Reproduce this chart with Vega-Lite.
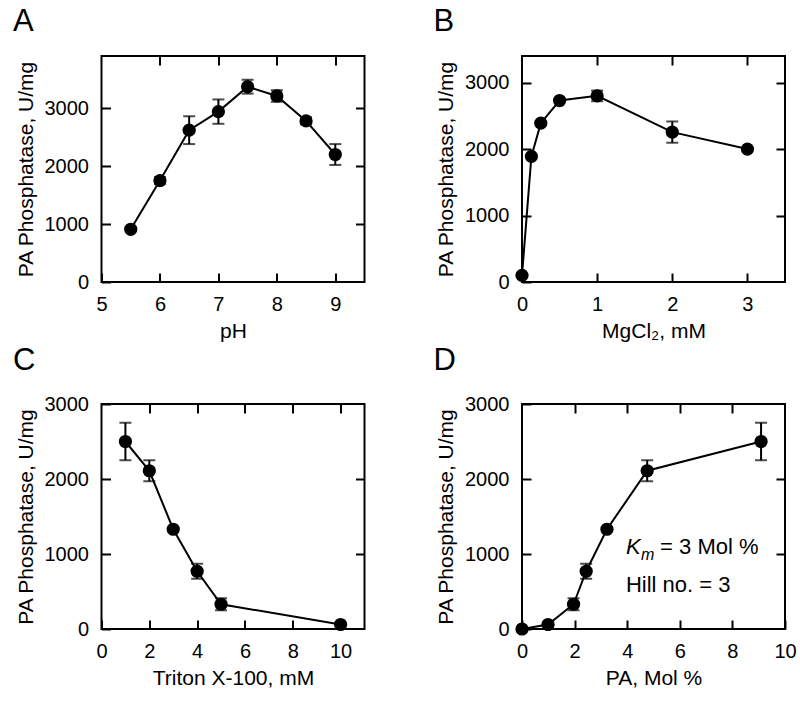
{
  "$schema": "https://vega.github.io/schema/vega-lite/v6.json",
  "background": "white",
  "padding": {"left": 11.5, "top": 5, "right": 5, "bottom": 5},
  "config": {
    "font": "Liberation Sans",
    "view": {"stroke": "black", "strokeWidth": 2},
    "axis": {
      "domain": false, "grid": false, "offset": -9, "labelFlush": false, "labelOverlap": false,
      "tickColor": "black", "tickWidth": 2, "tickSize": 9,
      "labelFontSize": 20, "labelColor": "black", "labelPadding": 12, "format": "d",
      "titleFontSize": 21, "titleFontWeight": "normal", "titleColor": "black"
    },
    "axisX": {"titlePadding": 6},
    "axisY": {"titlePadding": 8, "labelPadding": 13},
    "title": {"fontSize": 31, "fontWeight": "normal", "anchor": "start", "color": "black", "baseline": "alphabetic", "offset": 17, "dx": -2}
  },
  "datasets": {
    "A": [
      {"x": 5.5, "y": 910, "err": 0},
      {"x": 6, "y": 1750, "err": 60},
      {"x": 6.5, "y": 2620, "err": 240},
      {"x": 7, "y": 2940, "err": 210},
      {"x": 7.5, "y": 3370, "err": 120},
      {"x": 8, "y": 3210, "err": 100},
      {"x": 8.5, "y": 2780, "err": 60},
      {"x": 9, "y": 2200, "err": 180}
    ],
    "B": [
      {"x": 0, "y": 100, "err": 0},
      {"x": 0.125, "y": 1890, "err": 0},
      {"x": 0.25, "y": 2390, "err": 0},
      {"x": 0.5, "y": 2730, "err": 0},
      {"x": 1, "y": 2800, "err": 80},
      {"x": 2, "y": 2255, "err": 160},
      {"x": 3, "y": 2000, "err": 0}
    ],
    "C": [
      {"x": 1, "y": 2500, "err": 250},
      {"x": 2, "y": 2110, "err": 140},
      {"x": 3, "y": 1330, "err": 0},
      {"x": 4, "y": 770, "err": 100},
      {"x": 5, "y": 330, "err": 80},
      {"x": 10, "y": 60, "err": 0}
    ],
    "D": [
      {"x": 0, "y": 0, "err": 0},
      {"x": 0.99, "y": 60, "err": 0},
      {"x": 1.96, "y": 330, "err": 80},
      {"x": 2.44, "y": 770, "err": 100},
      {"x": 3.23, "y": 1330, "err": 0},
      {"x": 4.76, "y": 2110, "err": 140},
      {"x": 9.09, "y": 2500, "err": 250}
    ],
    "note": [
      {"part": "K", "x": 3.95, "y": 1000},
      {"part": "m", "x": 4.52, "y": 915},
      {"part": "eq", "x": 5.25, "y": 1000},
      {"part": "hill", "x": 3.95, "y": 490}
    ]
  },
  "columns": 2,
  "spacing": {"column": 65.5, "row": 2},
  "concat": [
    {
      "width": 263, "height": 226,
      "title": {"text": "A"},
      "data": {"name": "A"},
      "layer": [
        {
          "mark": {"type": "line", "color": "black", "strokeWidth": 2},
          "encoding": {
            "x": {"field": "x", "type": "quantitative", "scale": {"domain": [5, 9.5], "nice": false}, "axis": {"orient": "bottom", "values": [5, 6, 7, 8, 9], "title": "pH"}},
            "y": {"field": "y", "type": "quantitative", "scale": {"domain": [0, 3900], "nice": false}, "axis": {"orient": "left", "values": [0, 1000, 2000, 3000], "title": "PA Phosphatase, U/mg"}}
          }
        },
        {
          "transform": [{"filter": "datum.err > 0"}],
          "mark": {"type": "errorbar", "color": "black", "ticks": {"size": 12, "thickness": 2, "color": "black"}, "rule": {"strokeWidth": 2}},
          "encoding": {
            "x": {"field": "x", "type": "quantitative", "axis": null},
            "y": {"field": "y", "type": "quantitative", "axis": null},
            "yError": {"field": "err"}
          }
        },
        {
          "mark": {"type": "point", "shape": "circle", "filled": true, "size": 175, "color": "black", "opacity": 1},
          "encoding": {
            "x": {"field": "x", "type": "quantitative", "axis": {"orient": "top", "values": [6, 7, 8, 9], "labels": false, "title": null}},
            "y": {"field": "y", "type": "quantitative", "axis": {"orient": "right", "values": [1000, 2000, 3000], "labels": false, "title": null}}
          }
        }
      ],
      "resolve": {"axis": {"x": "independent", "y": "independent"}}
    },
    {
      "width": 263, "height": 226,
      "title": {"text": "B"},
      "data": {"name": "B"},
      "layer": [
        {
          "mark": {"type": "line", "color": "black", "strokeWidth": 2},
          "encoding": {
            "x": {"field": "x", "type": "quantitative", "scale": {"domain": [0, 3.5], "nice": false}, "axis": {"orient": "bottom", "values": [0, 1, 2, 3], "title": "MgCl₂, mM"}},
            "y": {"field": "y", "type": "quantitative", "scale": {"domain": [0, 3400], "nice": false}, "axis": {"orient": "left", "values": [0, 1000, 2000, 3000], "title": "PA Phosphatase, U/mg"}}
          }
        },
        {
          "transform": [{"filter": "datum.err > 0"}],
          "mark": {"type": "errorbar", "color": "black", "ticks": {"size": 12, "thickness": 2, "color": "black"}, "rule": {"strokeWidth": 2}},
          "encoding": {
            "x": {"field": "x", "type": "quantitative", "axis": null},
            "y": {"field": "y", "type": "quantitative", "axis": null},
            "yError": {"field": "err"}
          }
        },
        {
          "mark": {"type": "point", "shape": "circle", "filled": true, "size": 175, "color": "black", "opacity": 1},
          "encoding": {
            "x": {"field": "x", "type": "quantitative", "axis": {"orient": "top", "values": [1, 2, 3], "labels": false, "title": null}},
            "y": {"field": "y", "type": "quantitative", "axis": {"orient": "right", "values": [1000, 2000, 3000], "labels": false, "title": null}}
          }
        }
      ],
      "resolve": {"axis": {"x": "independent", "y": "independent"}}
    },
    {
      "width": 263, "height": 225,
      "title": {"text": "C"},
      "data": {"name": "C"},
      "layer": [
        {
          "mark": {"type": "line", "color": "black", "strokeWidth": 2},
          "encoding": {
            "x": {"field": "x", "type": "quantitative", "scale": {"domain": [0, 11], "nice": false}, "axis": {"orient": "bottom", "values": [0, 2, 4, 6, 8, 10], "title": "Triton X-100, mM"}},
            "y": {"field": "y", "type": "quantitative", "scale": {"domain": [0, 3000], "nice": false}, "axis": {"orient": "left", "values": [0, 1000, 2000, 3000], "title": "PA Phosphatase, U/mg"}}
          }
        },
        {
          "transform": [{"filter": "datum.err > 0"}],
          "mark": {"type": "errorbar", "color": "black", "ticks": {"size": 12, "thickness": 2, "color": "black"}, "rule": {"strokeWidth": 2}},
          "encoding": {
            "x": {"field": "x", "type": "quantitative", "axis": null},
            "y": {"field": "y", "type": "quantitative", "axis": null},
            "yError": {"field": "err"}
          }
        },
        {
          "mark": {"type": "point", "shape": "circle", "filled": true, "size": 175, "color": "black", "opacity": 1},
          "encoding": {
            "x": {"field": "x", "type": "quantitative", "axis": {"orient": "top", "values": [2, 4, 6, 8, 10], "labels": false, "title": null}},
            "y": {"field": "y", "type": "quantitative", "axis": {"orient": "right", "values": [1000, 2000], "labels": false, "title": null}}
          }
        }
      ],
      "resolve": {"axis": {"x": "independent", "y": "independent"}}
    },
    {
      "width": 263, "height": 225,
      "title": {"text": "D"},
      "layer": [
        {
          "data": {"name": "D"},
          "mark": {"type": "line", "color": "black", "strokeWidth": 2},
          "encoding": {
            "x": {"field": "x", "type": "quantitative", "scale": {"domain": [0, 10], "nice": false}, "axis": {"orient": "bottom", "values": [0, 2, 4, 6, 8, 10], "title": "PA, Mol %"}},
            "y": {"field": "y", "type": "quantitative", "scale": {"domain": [0, 3000], "nice": false}, "axis": {"orient": "left", "values": [0, 1000, 2000, 3000], "title": "PA Phosphatase, U/mg"}}
          }
        },
        {
          "data": {"name": "D"},
          "transform": [{"filter": "datum.err > 0"}],
          "mark": {"type": "errorbar", "color": "black", "ticks": {"size": 12, "thickness": 2, "color": "black"}, "rule": {"strokeWidth": 2}},
          "encoding": {
            "x": {"field": "x", "type": "quantitative", "axis": null},
            "y": {"field": "y", "type": "quantitative", "axis": null},
            "yError": {"field": "err"}
          }
        },
        {
          "data": {"name": "D"},
          "mark": {"type": "point", "shape": "circle", "filled": true, "size": 175, "color": "black", "opacity": 1},
          "encoding": {
            "x": {"field": "x", "type": "quantitative", "axis": {"orient": "top", "values": [2, 4, 6, 8], "labels": false, "title": null}},
            "y": {"field": "y", "type": "quantitative", "axis": {"orient": "right", "values": [1000, 2000], "labels": false, "title": null}}
          }
        },
        {
          "data": {"name": "note"},
          "transform": [{"filter": "datum.part == 'K'"}],
          "mark": {"type": "text", "text": "K", "fontStyle": "italic", "fontSize": 22, "align": "left", "baseline": "alphabetic", "color": "black"},
          "encoding": {"x": {"field": "x", "type": "quantitative", "axis": null}, "y": {"field": "y", "type": "quantitative", "axis": null}}
        },
        {
          "data": {"name": "note"},
          "transform": [{"filter": "datum.part == 'm'"}],
          "mark": {"type": "text", "text": "m", "fontStyle": "italic", "fontSize": 16, "align": "left", "baseline": "alphabetic", "color": "black"},
          "encoding": {"x": {"field": "x", "type": "quantitative", "axis": null}, "y": {"field": "y", "type": "quantitative", "axis": null}}
        },
        {
          "data": {"name": "note"},
          "transform": [{"filter": "datum.part == 'eq'"}],
          "mark": {"type": "text", "text": "= 3 Mol %", "fontSize": 22, "align": "left", "baseline": "alphabetic", "color": "black"},
          "encoding": {"x": {"field": "x", "type": "quantitative", "axis": null}, "y": {"field": "y", "type": "quantitative", "axis": null}}
        },
        {
          "data": {"name": "note"},
          "transform": [{"filter": "datum.part == 'hill'"}],
          "mark": {"type": "text", "text": "Hill no. = 3", "fontSize": 22, "align": "left", "baseline": "alphabetic", "color": "black"},
          "encoding": {"x": {"field": "x", "type": "quantitative", "axis": null}, "y": {"field": "y", "type": "quantitative", "axis": null}}
        }
      ],
      "resolve": {"axis": {"x": "independent", "y": "independent"}}
    }
  ]
}
